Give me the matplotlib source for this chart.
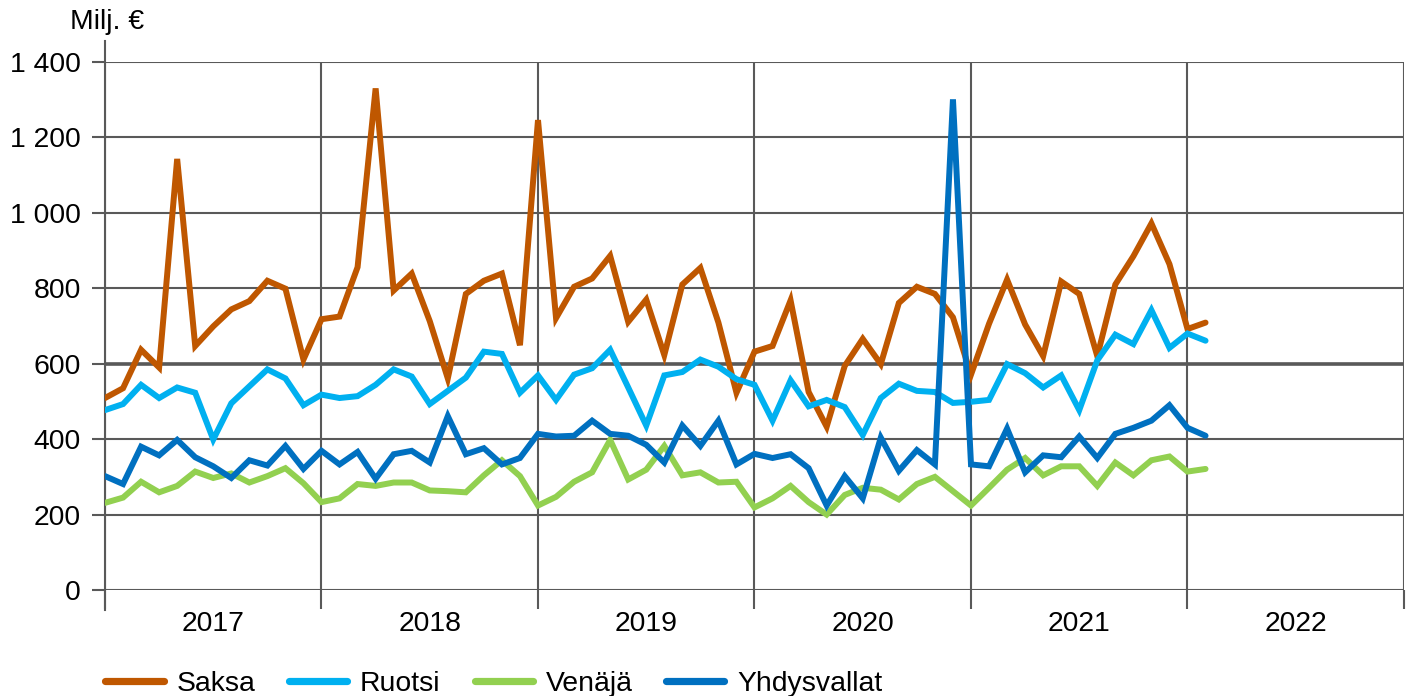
import matplotlib
matplotlib.use("Agg")
import matplotlib.pyplot as plt
import numpy as np

plt.rcParams['font.family'] = ['Liberation Sans', 'DejaVu Sans']

# Monthly values, Jan 2017 - Feb 2022 (milj. €)
saksa = [509, 535, 637, 590, 1143, 647, 699, 744, 766, 820, 799, 611,
         718, 725, 856, 1330, 794, 839, 713, 561, 785, 820, 839, 649,
         1246, 721, 804, 826, 886, 711, 770, 623, 810, 854, 709, 523,
         632, 647, 768, 525, 433, 594, 666, 599, 761, 804, 785, 723,
         571, 706, 823, 704, 620, 818, 785, 620, 810, 885, 972, 864,
         692, 709]
ruotsi = [477, 493, 544, 509, 537, 523, 399, 495, 540, 585, 561, 490,
          518, 509, 514, 544, 585, 566, 493, 528, 563, 632, 626, 523,
          569, 504, 571, 588, 637, 537, 436, 569, 578, 611, 592, 559,
          544, 449, 556, 487, 504, 485, 411, 509, 547, 528, 525, 496,
          499, 504, 599, 575, 537, 569, 477, 609, 677, 652, 742, 642,
          680, 661]
venaja = [231, 245, 287, 259, 276, 314, 297, 309, 285, 302, 323, 283,
          233, 243, 281, 276, 285, 285, 264, 262, 259, 304, 344, 302,
          224, 247, 287, 312, 398, 293, 319, 382, 304, 312, 285, 287,
          219, 243, 276, 233, 200, 252, 271, 266, 240, 281, 300, 262,
          224, 271, 319, 350, 304, 328, 328, 276, 338, 304, 344, 354,
          314, 321]
yhdysvallat = [302, 281, 380, 357, 398, 352, 328, 297, 344, 330, 382, 321,
               369, 333, 366, 295, 360, 369, 338, 461, 360, 376, 333, 350,
               414, 407, 409, 449, 414, 409, 385, 338, 436, 382, 449, 333,
               361, 350, 360, 323, 224, 302, 243, 404, 316, 371, 333, 1301,
               333, 328, 428, 312, 357, 352, 407, 350, 414, 430, 449, 490,
               430, 409]

years = ['2017', '2018', '2019', '2020', '2021', '2022']
series = [('Saksa', saksa, '#BF5700'),
          ('Ruotsi', ruotsi, '#00B0F0'),
          ('Venäjä', venaja, '#92D050'),
          ('Yhdysvallat', yhdysvallat, '#0070C0')]

grid_c = '#595959'
fs = 20.4

fig = plt.figure(figsize=(14.12, 6.96), dpi=100)
ax = fig.add_axes([105 / 1412, 1 - 590 / 696, 1299 / 1412, 528 / 696])

for name, vals, col in series:
    ax.plot(np.arange(len(vals)), vals, color=col, lw=4.3, label=name,
            solid_capstyle='round', solid_joinstyle='miter', zorder=3)

ax.set_xlim(0, 12 * len(years))
ax.set_ylim(0, 1400)

ax.set_yticks(np.arange(0, 1401, 200))
ax.set_yticklabels([f"{v:,}".replace(',', ' ') for v in range(0, 1401, 200)])
ax.set_xticks(np.arange(0, 12 * len(years) + 1, 12))
ax.set_xticklabels([])
ax.set_xticks(np.arange(6, 12 * len(years), 12), minor=True)
ax.set_xticklabels(years, minor=True)

ax.grid(True, which='major', color=grid_c, lw=1.5, zorder=1)
ax.axhline(600, color=grid_c, lw=2.6, zorder=1)
for s in ax.spines.values():
    s.set_visible(False)

ax.tick_params(axis='y', length=9.5, width=1.5, color=grid_c, labelsize=fs,
               pad=8, labelcolor='black')
ax.tick_params(axis='x', which='major', length=14, width=1.5, color=grid_c)
ax.tick_params(axis='x', which='minor', length=0, labelsize=fs, pad=15)

# y axis line extending above plot
ax.plot([0, 0], [-0.038, 1.04], transform=ax.get_xaxis_transform(),
        color=grid_c, lw=1.5, clip_on=False, zorder=2)

fig.text(70 / 1412, 1 - 22 / 696, 'Milj. €', fontsize=fs, va='center', ha='left')

leg = fig.legend(loc='lower left', bbox_to_anchor=(80 / 1412, -0.038), ncol=4,
                 frameon=False, fontsize=fs, handlelength=2.05,
                 handletextpad=0.45, columnspacing=1.2)
for h in leg.get_lines():
    h.set_linewidth(5.2)
    h.set_solid_capstyle('round')

fig.savefig('out.png', dpi=100)
